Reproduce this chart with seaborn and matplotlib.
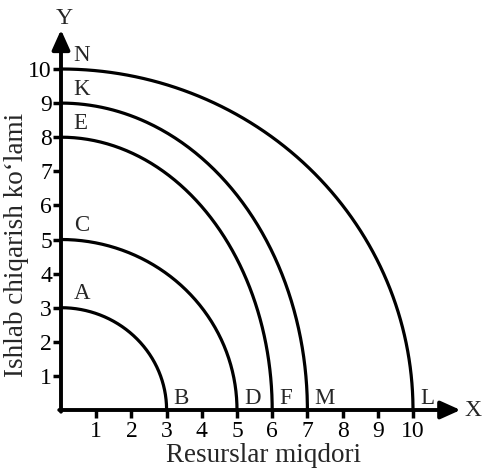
import numpy as np
import pandas as pd
import matplotlib
matplotlib.use("Agg")
import matplotlib.pyplot as plt
import seaborn as sns

# Data: quarter curves from (0, y_intercept) to (x_intercept, 0)
x_intercepts = [3, 5, 6, 7, 10]
y_intercepts = [3, 5, 8, 9, 10]
top_labels = ["A", "C", "E", "K", "N"]
bottom_labels = ["B", "D", "F", "M", "L"]
tick_values = [1, 2, 3, 4, 5, 6, 7, 8, 9, 10]
x_label = "Resurslar miqdori"
y_label = "Ishlab chiqarish ko\u2018lami"

sns.set_theme(style="white")
plt.rcParams["font.family"] = ["Liberation Serif", "DejaVu Serif"]

rows = []
t = np.linspace(0, np.pi / 2, 200)
for i, (a, b) in enumerate(zip(x_intercepts, y_intercepts)):
    for tt in t:
        rows.append({"curve": i, "x": a * np.sin(tt), "y": b * np.cos(tt)})
df = pd.DataFrame(rows)

fig = plt.figure(figsize=(4.84, 4.70), dpi=100)
ax = fig.add_axes([61 / 484, 60 / 470, 423 / 484, 410 / 470])
ax.set_facecolor("white")

sns.lineplot(data=df, x="x", y="y", units="curve", estimator=None, sort=False,
             color="black", linewidth=2.3, ax=ax, legend=False)

ax.set_xlim(0, 423 / 35.2)
ax.set_ylim(0, 410 / 34.1)
for s in ax.spines.values():
    s.set_visible(False)

# axes with arrows
ax.annotate("", xy=(11.35, 0), xytext=(-0.05, 0),
            arrowprops=dict(arrowstyle="-|>,head_length=1.0,head_width=0.45", color="black",
                            lw=2.8, shrinkA=0, shrinkB=0), annotation_clip=False)
ax.annotate("", xy=(0, 11.15), xytext=(0, -0.05),
            arrowprops=dict(arrowstyle="-|>,head_length=1.0,head_width=0.45", color="black",
                            lw=2.8, shrinkA=0, shrinkB=0), annotation_clip=False)
ax.text(11.45, 0, "X", fontsize=17, ha="left", va="center")
ax.text(0.08, 11.17, "Y", fontsize=17, ha="center", va="bottom")

# ticks
ax.set_xticks(tick_values)
ax.set_yticks(tick_values)
ax.set_xticklabels([str(v) for v in tick_values])
ax.set_yticklabels([str(v) for v in tick_values])
ax.tick_params(axis="both", which="both", direction="out", length=6, width=2.5,
               colors="black", labelsize=17, pad=0.5)
ax.tick_params(axis="x", bottom=True, pad=2)
ax.tick_params(axis="y", left=True)

# labels on curves
for a, b, tl, bl in zip(x_intercepts, y_intercepts, top_labels, bottom_labels):
    ax.text(0.36, b + 0.1, tl, fontsize=16.5, ha="left", va="bottom")
    ax.text(a + 0.2, 0.03, bl, fontsize=16.5, ha="left", va="bottom")

ax.set_xlabel(x_label, fontsize=19.5)
ax.set_ylabel(y_label, fontsize=19.5)
ax.xaxis.label.set_va("center")
ax.yaxis.label.set_va("center")
ax.xaxis.set_label_coords((263 - 61) / 423, (410 - 456) / 410)
ax.yaxis.set_label_coords((17 - 61) / 423, (410 - 245) / 410)

fig.savefig("out.png", dpi=100)
